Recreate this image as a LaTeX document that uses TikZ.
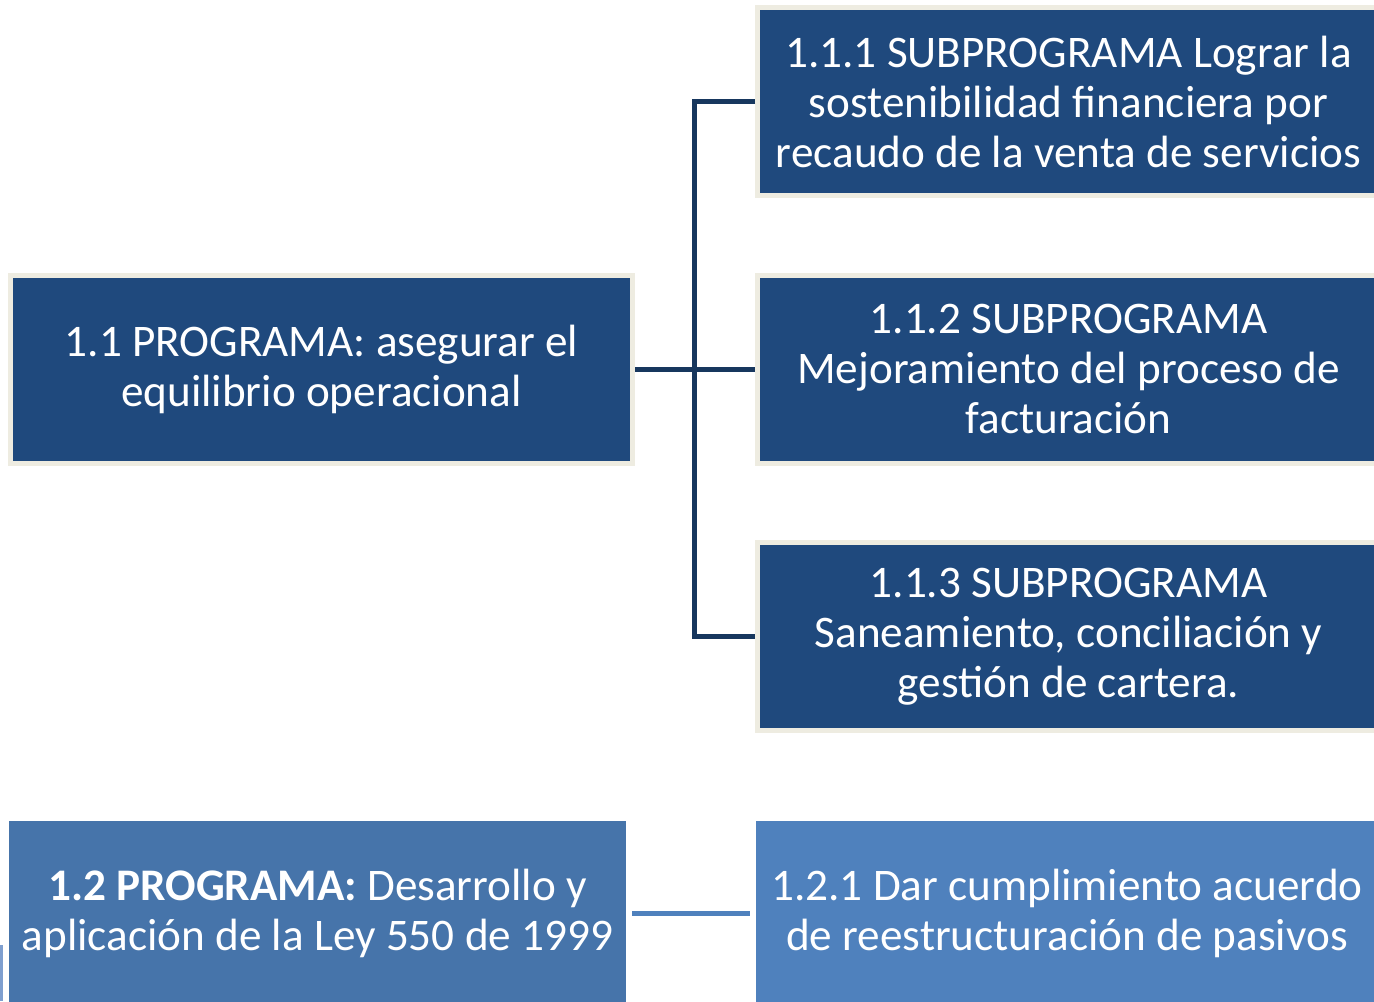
\documentclass[tikz,border=0pt]{standalone}
\usepackage{fontspec}
\setmainfont{Carlito}
\definecolor{navy}{HTML}{1F497D}
\definecolor{cream}{HTML}{EEECE1}
\definecolor{linkdark}{HTML}{17375E}
\definecolor{midblue}{HTML}{4674AA}
\definecolor{lightblue}{HTML}{4F81BD}
\definecolor{stripblue}{HTML}{7F9FCF}
\tikzset{
	navybox/.style={rectangle, draw=cream, line width=2.5pt, fill=navy, text=white, align=center, inner sep=0pt, minimum width=311pt, minimum height=94pt, font=\fontsize{22.6}{25}\selectfont},
	bluebox/.style={rectangle, fill=#1, text=white, align=center, inner sep=0pt, minimum height=92pt, font=\fontsize{22.6}{25}\selectfont},
	link/.style={line width=2.5pt, draw=linkdark},
}
\begin{document}
\begin{tikzpicture}[x=0.5pt, y=-0.5pt]
	\useasboundingbox (0,0) rectangle (1374,1001);
	% 1.1 programa and its subprogramas
	\node[ navybox ] (prog11) at (321.5,369) {1.1 PROGRAMA: asegurar el\\equilibrio operacional};
	\node[ navybox ] (sub111) at (1068.5,101.5) {1.1.1 SUBPROGRAMA Lograr la\\sostenibilidad financiera por\\recaudo de la venta de servicios};
	\node[ navybox ] (sub112) at (1068.5,369) {1.1.2 SUBPROGRAMA\\Mejoramiento del proceso de\\facturación};
	\node[ navybox ] (sub113) at (1068.5,636.5) {1.1.3 SUBPROGRAMA\\Saneamiento, conciliación y\\gestión de cartera.};
	% Tree lines
	\coordinate (trunk) at (694.5,369);
	\draw[ link ] (prog11.east) -- (sub112.west);
	\draw[ link ] (sub111.west) -- (trunk |- sub111.west) -- (trunk |- sub113.west) -- (sub113.west);
	% 1.2 programa
	\fill[ stripblue ] (-5,945) rectangle (3,1001);
	\node[ bluebox=midblue, minimum width=308.5pt ] (prog12) at (317.5,913) {\textbf{1.2 PROGRAMA:} Desarrollo y\\aplicación de la Ley 550 de 1999};
	\node[ bluebox=lightblue, minimum width=311pt ] (sub121) at (1067,913) {1.2.1 Dar cumplimiento acuerdo\\de reestructuración de pasivos};
	\draw[ line width=2.5pt, draw=lightblue, shorten <=3pt, shorten >=3pt ] (prog12.east) -- (sub121.west);
\end{tikzpicture}
\end{document}
